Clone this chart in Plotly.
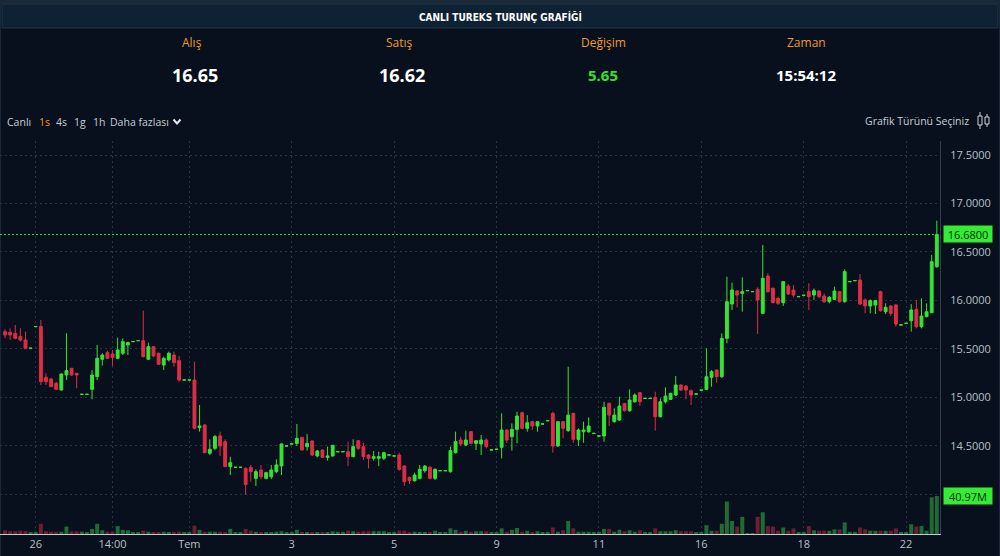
import plotly.graph_objects as go

W, H = 1000, 556


def px(x):
    return x / W


def py(y):
    return 1 - y / H


# ---------------- data ----------------
opens = [
    15.677, 15.670, 15.660, 15.626, 15.591, 15.504, 15.728, 15.729, 15.206, 15.189,
    15.144, 15.075, 15.230, 15.299, 15.247, 15.029, 15.029, 15.082, 15.213, 15.392,
    15.460, 15.447, 15.402, 15.454, 15.540, 15.573, 15.583, 15.584, 15.392, 15.522,
    15.454, 15.333, 15.385, 15.436, 15.378, 15.177, 15.177, 15.178, 14.686, 14.714,
    14.422, 14.473, 14.601, 14.542, 14.284, 14.276, 14.276, 14.267,
    14.277, 14.163, 14.249, 14.163, 14.180, 14.232, 14.291, 14.496, 14.517, 14.524,
    14.586, 14.490, 14.549, 14.394, 14.456, 14.380, 14.394, 14.437, 14.437, 14.438,
    14.387, 14.552, 14.490, 14.404, 14.370, 14.370, 14.370, 14.403, 14.393, 14.404,
    14.290, 14.174, 14.139, 14.163, 14.242, 14.277, 14.163, 14.241, 14.241, 14.232,
    14.428, 14.559, 14.507, 14.645, 14.524, 14.518, 14.559, 14.455, 14.462,
    14.483, 14.662, 14.593, 14.669, 14.841, 14.679, 14.748, 14.703, 14.723, 14.757,
    14.834, 14.497, 14.748, 14.655, 14.834, 14.565, 14.644, 14.644, 14.626, 14.599,
    14.600, 14.937, 14.748, 14.765, 14.937, 14.861, 14.954, 15.047, 14.987, 14.987,
    14.999, 14.799, 14.954, 14.978, 15.023, 15.126, 15.116, 15.067, 15.032, 15.073,
    15.081, 15.205, 15.281, 15.212,
    15.608, 15.962, 16.097, 16.072, 16.099, 16.089, 16.114, 15.866, 16.251, 16.124,
    16.021, 15.976, 16.148, 16.107, 16.037, 16.051, 16.090, 16.055, 16.097, 16.045,
    15.986, 16.010, 16.090, 15.986, 16.192, 16.202, 16.210, 16.004, 15.942, 15.952,
    16.090, 15.883, 15.942, 15.952, 15.745, 15.762, 15.790, 15.907, 15.728, 15.832,
    15.873, 16.347,
]
highs = [
    15.701, 15.712, 15.746, 15.712, 15.677, 15.510, 15.732, 15.798, 15.247, 15.196,
    15.161, 15.247, 15.660, 15.299, 15.247, 15.032, 15.032, 15.282, 15.540, 15.454,
    15.481, 15.488, 15.615, 15.608, 15.574, 15.576, 15.586, 15.894, 15.564, 15.529,
    15.460, 15.419, 15.471, 15.471, 15.426, 15.180, 15.180, 15.368, 14.920, 14.724,
    14.566, 14.611, 14.645, 14.566, 14.387, 14.279, 14.279, 14.275,
    14.301, 14.256, 14.301, 14.232, 14.301, 14.359, 14.524, 14.499, 14.520, 14.724,
    14.593, 14.621, 14.552, 14.456, 14.463, 14.490, 14.507, 14.440, 14.440, 14.542,
    14.566, 14.559, 14.531, 14.414, 14.445, 14.438, 14.438, 14.406, 14.396, 14.428,
    14.301, 14.180, 14.222, 14.301, 14.301, 14.290, 14.266, 14.244, 14.244, 14.490,
    14.645, 14.593, 14.655, 14.645, 14.559, 14.611, 14.576, 14.458, 14.465,
    14.834, 14.669, 14.730, 14.851, 14.851, 14.816, 14.758, 14.748, 14.726, 14.760,
    14.851, 14.748, 14.748, 15.315, 14.840, 14.679, 14.748, 14.792, 14.629, 14.602,
    14.954, 14.944, 14.885, 15.006, 14.937, 15.081, 15.040, 15.054, 14.990, 14.990,
    15.057, 14.988, 15.102, 15.047, 15.219, 15.136, 15.126, 15.081, 15.035, 15.076,
    15.505, 15.281, 15.288, 15.660,
    16.244, 16.182, 16.107, 16.238, 16.102, 16.092, 16.134, 16.571, 16.279, 16.134,
    16.038, 16.193, 16.169, 16.158, 16.040, 16.054, 16.176, 16.124, 16.107, 16.072,
    16.045, 16.141, 16.097, 16.320, 16.195, 16.205, 16.272, 16.021, 16.010, 16.004,
    16.100, 15.969, 15.952, 15.962, 15.748, 15.765, 15.962, 16.004, 16.021, 15.969,
    16.468, 16.822,
]
lows = [
    15.608, 15.591, 15.598, 15.574, 15.495, 15.500, 15.724, 15.127, 15.127, 15.103,
    15.075, 15.068, 15.178, 15.220, 15.092, 15.027, 15.027, 14.979, 15.178, 15.326,
    15.392, 15.323, 15.392, 15.436, 15.436, 15.572, 15.582, 15.412, 15.385, 15.412,
    15.333, 15.282, 15.368, 15.316, 15.161, 15.176, 15.176, 14.669, 14.645, 14.422,
    14.404, 14.456, 14.394, 14.277, 14.198, 14.275, 14.275, 13.991,
    14.129, 14.084, 14.153, 14.153, 14.156, 14.215, 14.198, 14.495, 14.516, 14.497,
    14.449, 14.449, 14.394, 14.380, 14.377, 14.346, 14.387, 14.436, 14.436, 14.290,
    14.380, 14.456, 14.352, 14.266, 14.346, 14.290, 14.352, 14.402, 14.392, 14.242,
    14.084, 14.105, 14.129, 14.153, 14.222, 14.153, 14.146, 14.240, 14.240, 14.222,
    14.421, 14.497, 14.497, 14.518, 14.456, 14.404, 14.473, 14.454, 14.461,
    14.369, 14.524, 14.448, 14.524, 14.669, 14.644, 14.662, 14.644, 14.722, 14.756,
    14.428, 14.490, 14.576, 14.644, 14.531, 14.497, 14.531, 14.634, 14.625, 14.598,
    14.541, 14.703, 14.737, 14.758, 14.851, 14.851, 14.944, 14.913, 14.986, 14.986,
    14.655, 14.792, 14.937, 14.971, 15.012, 15.067, 14.978, 14.920, 15.031, 15.072,
    15.074, 15.109, 15.150, 15.199,
    15.556, 15.900, 15.928, 15.883, 16.098, 16.088, 15.653, 15.859, 16.079, 15.969,
    15.952, 15.942, 16.055, 16.031, 16.036, 16.050, 15.900, 16.004, 16.021, 15.976,
    15.969, 16.004, 15.976, 15.976, 16.191, 16.201, 15.952, 15.866, 15.866, 15.859,
    15.883, 15.859, 15.838, 15.728, 15.744, 15.761, 15.677, 15.711, 15.711, 15.825,
    15.866, 16.337,
]
closes = [
    15.643, 15.643, 15.608, 15.591, 15.505, 15.507, 15.730, 15.161, 15.161, 15.110,
    15.082, 15.240, 15.275, 15.230, 15.230, 15.031, 15.031, 15.230, 15.402, 15.436,
    15.402, 15.412, 15.488, 15.574, 15.564, 15.575, 15.585, 15.419, 15.522, 15.426,
    15.340, 15.402, 15.454, 15.357, 15.178, 15.179, 15.179, 14.680, 14.704, 14.428,
    14.463, 14.594, 14.497, 14.284, 14.325, 14.278, 14.278, 14.100,
    14.232, 14.232, 14.180, 14.222, 14.249, 14.301, 14.518, 14.498, 14.519, 14.576,
    14.456, 14.524, 14.404, 14.445, 14.380, 14.394, 14.504, 14.439, 14.439, 14.387,
    14.490, 14.473, 14.387, 14.370, 14.387, 14.387, 14.428, 14.405, 14.395, 14.256,
    14.129, 14.139, 14.198, 14.256, 14.290, 14.163, 14.256, 14.243, 14.243, 14.449,
    14.542, 14.518, 14.559, 14.524, 14.552, 14.559, 14.490, 14.457, 14.464,
    14.662, 14.558, 14.669, 14.806, 14.679, 14.737, 14.703, 14.748, 14.725, 14.759,
    14.497, 14.748, 14.679, 14.816, 14.565, 14.662, 14.662, 14.703, 14.628, 14.601,
    14.896, 14.816, 14.816, 14.909, 14.861, 14.971, 15.023, 14.954, 14.989, 14.989,
    14.799, 14.954, 15.012, 15.040, 15.126, 15.074, 15.074, 15.023, 15.034, 15.075,
    15.212, 15.264, 15.212, 15.608,
    15.986, 16.107, 16.055, 16.090, 16.101, 16.091, 16.004, 16.227, 16.090, 15.976,
    15.969, 16.193, 16.066, 16.055, 16.039, 16.053, 16.038, 16.100, 16.038, 15.986,
    16.031, 16.097, 15.986, 16.296, 16.194, 16.204, 15.962, 15.942, 15.997, 15.997,
    15.894, 15.928, 15.866, 15.756, 15.747, 15.764, 15.900, 15.728, 15.838, 15.883,
    16.399, 16.680,
]
volumes_m = [
    4, 3, 3, 3.5, 3, 2, 1.5,
    11, 3, 2.5, 2.5, 2.5, 8,
    3, 3, 2.5, 2, 5.5, 11, 4,
    2.5, 2.5, 8.5, 4.5, 4, 2, 2,
    3.5, 2.5, 2, 2, 2.5, 2, 2, 2.5, 1.5, 1.5,
    9, 4.5, 2.5, 2.5, 2.5, 2.5, 2, 5.5, 1.5, 1.5,
    5.5, 3.5, 2.5, 2, 2, 2, 2.5, 3, 1.5, 1.5,
    4.5, 2, 2, 2, 2, 2, 2, 3, 1.5, 1.5,
    3.5, 3, 2.5, 3, 3, 3, 3, 3, 1.5, 1.5,
    3.5, 3.5, 2, 2.5, 2, 2, 2, 3.5, 1.5, 1.5,
    6, 4.5, 2.5, 3.5, 2.5, 3, 3, 3, 1.5, 1.5,
    6, 2.5, 4.5, 6.5, 2.5, 3.5, 2, 3, 1.5, 1.5,
    7, 2.5, 4, 14, 6, 2.5, 2.5, 2.5, 1.5, 1.5,
    5.5, 5.5, 2.5, 4.5, 3, 4, 2.5, 4, 1.5, 1.5,
    6, 3, 3, 3, 4, 3, 3, 3, 1.5, 1.5,
    9.5, 3.5, 3.5, 11, 35, 14, 8, 18.5, 1, 1,
    18.5, 23.5, 8.5, 8, 3.5, 7, 3.5, 6, 1.5, 1.5,
    8.5, 4, 3.5, 3.5, 3.5, 5, 5, 12.5, 1.5, 1.5,
    7, 5, 3.5, 3.5, 3.5, 3.5, 3.5, 6, 1.5, 1.5,
    10.5, 8, 8.5, 3.5, 39.5, 40.97,
]
candle_index = list(range(len(closes)))
time_tick_index = [6, 21, 36, 56, 76, 96, 116, 136, 156, 176]
time_tick_labels = ["26", "14:00", "Tem", "3", "5", "9", "11", "16", "18", "22"]
price_ticks = [14.0, 14.5, 15.0, 15.5, 16.0, 16.5, 17.0, 17.5]
last_price = 16.68
last_volume_m = 40.97
quote_labels = ["Alış", "Satış", "Değişim", "Zaman"]
quote_values = ["16.65", "16.62", "5.65", "15:54:12"]
periods = ["1s", "4s", "1g", "1h"]

# ---------------- style ----------------
UP = "#36e336"
DN = "#dc2e45"
VUP = "#1f6a37"
VDN = "#6b2032"
BG = "#07101c"
GRID = "#2a3441"
GRID_DASH = "2px,3px"
AX_TXT = "#b9c0c8"
ORANGE = "#ef9a2a"
FONT = "Open Sans, Liberation Sans, sans-serif"
NARROW = "Liberation Sans Narrow, DejaVu Sans Condensed, sans-serif"

vol_colors = [VUP if c >= o else VDN for o, c in zip(opens, closes)]

fig = go.Figure()
fig.add_trace(go.Bar(
    x=candle_index, y=volumes_m, marker=dict(color=vol_colors, line=dict(width=0)),
    width=0.78, xaxis="x", yaxis="y", hoverinfo="skip",
))
fig.add_trace(go.Candlestick(
    x=candle_index, open=opens, high=highs, low=lows, close=closes,
    increasing=dict(line=dict(color=UP, width=1), fillcolor=UP),
    decreasing=dict(line=dict(color=DN, width=1), fillcolor=DN),
    whiskerwidth=0, xaxis="x", yaxis="y2", hoverinfo="skip",
))

y_top_px, y_bot_px = 141, 534
fig.update_layout(
    width=W, height=H, margin=dict(l=0, r=0, t=0, b=0),
    paper_bgcolor=BG, plot_bgcolor=BG, showlegend=False, hovermode=False,
    boxgap=0.2, bargap=0.2,
    xaxis=dict(
        domain=[0, 0.94], range=[-0.98, 182.62], rangeslider=dict(visible=False),
        tickmode="array", tickvals=time_tick_index, ticktext=time_tick_labels,
        showgrid=True, gridcolor=GRID, griddash=GRID_DASH, gridwidth=1,
        showline=True, linecolor="#c8ccd1", linewidth=1, zeroline=False,
        ticks="", tickfont=dict(family=FONT, size=11, color=AX_TXT),
        anchor="y", fixedrange=True,
    ),
    yaxis=dict(
        domain=[py(y_bot_px), py(y_top_px)], range=[0, 423.7], visible=False,
        showgrid=False, zeroline=False, fixedrange=True,
    ),
    yaxis2=dict(
        overlaying="y", side="right", anchor="x",
        range=[13.5888, 17.6445], tickmode="array", tickvals=price_ticks,
        ticktext=["" if v == 14.0 else f"{v:.4f}" for v in price_ticks],
        showgrid=True, gridcolor=GRID, griddash=GRID_DASH, gridwidth=1,
        showline=True, linecolor="#343f4d", linewidth=1, zeroline=False,
        ticks="", ticklabelstandoff=7,
        tickfont=dict(family=FONT, size=11, color=AX_TXT), fixedrange=True,
    ),
)

shapes = []
# top strip and header bar
shapes.append(dict(type="rect", xref="paper", yref="paper", x0=0, x1=1, y0=py(4), y1=1,
                   fillcolor="#1a2937", line=dict(width=0), layer="below"))
shapes.append(dict(type="rect", xref="paper", yref="paper", x0=px(2), x1=px(998),
                   y0=py(28), y1=py(4), fillcolor="#0f2234",
                   line=dict(color="#1d3448", width=1), layer="below"))
for xe in (0.5, 999.5):
    shapes.append(dict(type="line", xref="paper", yref="paper", x0=px(xe), x1=px(xe),
                       y0=0, y1=py(4), line=dict(color="#182838", width=1), layer="below"))
# last price dotted line
shapes.append(dict(type="line", xref="paper", yref="y2", x0=0, x1=px(938),
                   y0=last_price, y1=last_price, line=dict(color=UP, width=1, dash="2px,2px")))
# chevron after "Daha fazlası"
shapes.append(dict(type="path", xref="paper", yref="paper",
                   path=f"M {px(173.5)},{py(119.5)} L {px(177)},{py(123.5)} L {px(180.5)},{py(119.5)}",
                   line=dict(color="#e6e9ec", width=2)))
# candle icon at toolbar right
ICON = "#cfd4da"
for (xc, b0, b1, w0, w1) in ((980, 116, 125, 112, 129), (987, 117, 124, 114, 127)):
    shapes.append(dict(type="line", xref="paper", yref="paper", x0=px(xc), x1=px(xc),
                       y0=py(w1), y1=py(w0), line=dict(color=ICON, width=1)))
    shapes.append(dict(type="rect", xref="paper", yref="paper", x0=px(xc - 2), x1=px(xc + 2),
                       y0=py(b1), y1=py(b0), fillcolor=BG, line=dict(color=ICON, width=1)))
fig.update_layout(shapes=shapes)

ann = []


def text(x, y, s, size=11, color="#c8ced6", xanchor="center", family=FONT, bold=False):
    ann.append(dict(x=px(x), y=py(y), xref="paper", yref="paper", showarrow=False,
                    text=f"<b>{s}</b>" if bold else s, xanchor=xanchor, yanchor="middle",
                    font=dict(family=family, size=size, color=color)))


text(500, 16, "CANLI TUREKS TURUNÇ GRAFİĞİ", size=10, color="#ffffff", family=NARROW, bold=True)
label_x = [192, 399, 603, 806]
value_sizes = [18, 18, 15, 15]
value_colors = ["#ffffff", "#ffffff", "#33e033", "#ffffff"]
for lx, lab, val, vs, vc in zip(label_x, quote_labels, quote_values, value_sizes, value_colors):
    text(lx, 43, lab, size=12, color=ORANGE)
    text(lx + (3 if vs == 18 else 0), 75, val, size=vs, color=vc, bold=True)

TB = 10.5
text(5, 122, "Canlı", size=TB, color="#c8ced6", xanchor="left")
for xx, p in zip([37, 54, 72, 91], periods):
    text(xx, 122, p, size=TB, color=ORANGE if p == "1s" else "#c8ced6", xanchor="left")
text(108, 122, "Daha fazlası", size=TB, color="#c8ced6", xanchor="left")
text(971, 121, "Grafik Türünü Seçiniz", size=TB, color="#c8ced6", xanchor="right")

# value boxes on the right axis
ann.append(dict(x=px(968), y=last_price, xref="paper", yref="y2", showarrow=False,
                text=f"{last_price:.4f}", xanchor="center", yanchor="middle",
                bgcolor="#33ec33", borderpad=2, width=44, height=12,
                font=dict(family=FONT, size=11, color="#0b2a0b")))
ann.append(dict(x=px(968), y=last_volume_m, xref="paper", yref="y", showarrow=False,
                text=f"{last_volume_m:.2f}M", xanchor="center", yanchor="middle",
                bgcolor="#33ec33", borderpad=2, width=44, height=12,
                font=dict(family=FONT, size=11, color="#0b2a0b")))
fig.update_layout(annotations=ann)

fig.write_html(
    "out.html",
    config={"displayModeBar": False},
    post_script="document.body.style.margin='0';document.body.style.overflow='hidden';",
)
